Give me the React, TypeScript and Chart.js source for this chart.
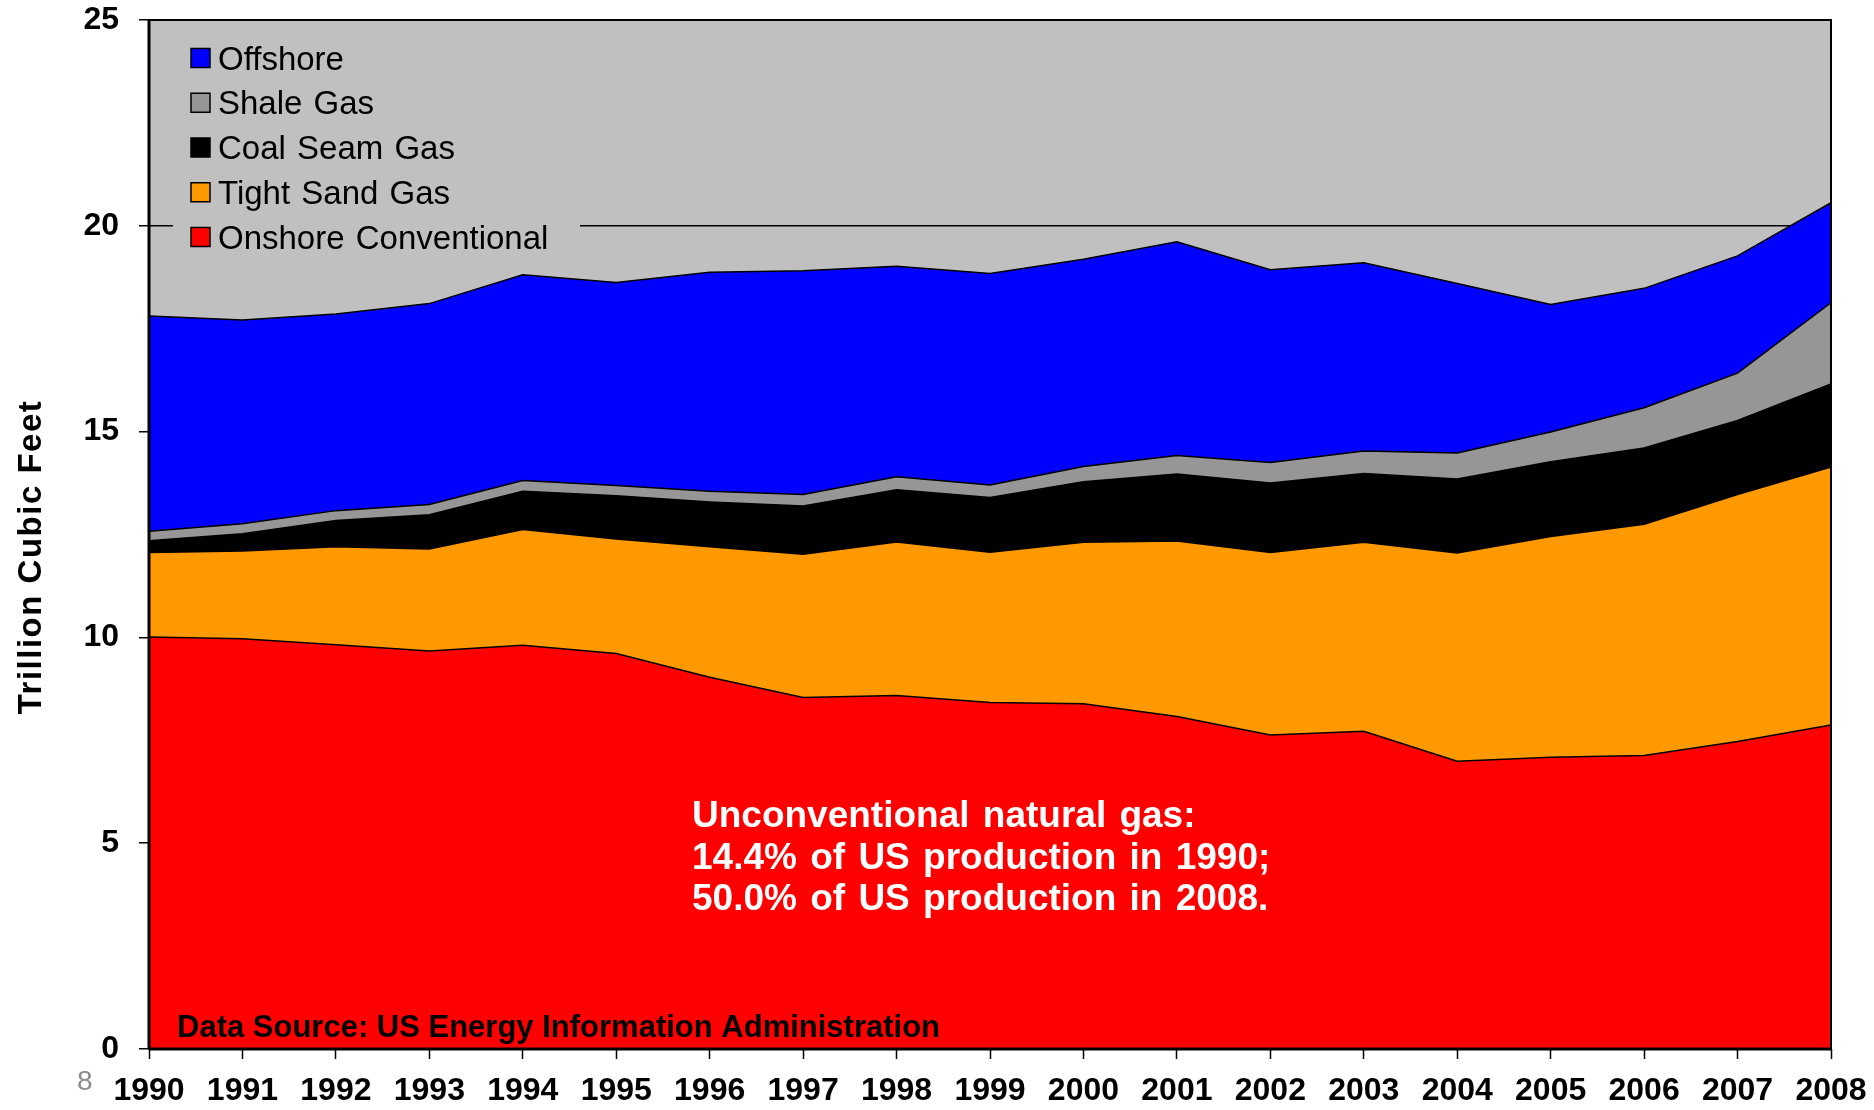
import React, { useEffect, useRef } from "react";
import { Chart, registerables } from "chart.js";

Chart.register(...registerables);

const years = ["1990","1991","1992","1993","1994","1995","1996","1997","1998","1999","2000","2001","2002","2003","2004","2005","2006","2007","2008"];
const onshoreConventional = [10.01, 9.97, 9.82, 9.67, 9.81, 9.61, 9.03, 8.54, 8.59, 8.42, 8.39, 8.08, 7.63, 7.72, 6.99, 7.09, 7.13, 7.47, 7.87];
const tightSandGas = [2.05, 2.13, 2.38, 2.48, 2.81, 2.78, 3.17, 3.48, 3.73, 3.65, 3.92, 4.26, 4.43, 4.59, 5.06, 5.36, 5.62, 6.0, 6.27];
const coalSeamGas = [0.29, 0.42, 0.64, 0.83, 0.93, 1.05, 1.09, 1.17, 1.27, 1.33, 1.47, 1.63, 1.69, 1.67, 1.8, 1.82, 1.85, 1.8, 2.02];
const shaleGas = [0.23, 0.24, 0.24, 0.25, 0.26, 0.25, 0.26, 0.28, 0.31, 0.3, 0.37, 0.45, 0.5, 0.55, 0.63, 0.72, 0.98, 1.15, 1.97];
const offshore = [5.23, 4.95, 4.78, 4.88, 5.0, 4.93, 5.32, 5.44, 5.12, 5.14, 5.04, 5.19, 4.68, 4.57, 4.12, 3.1, 2.9, 2.85, 2.43];

const seriesNames = ["Onshore Conventional", "Tight Sand Gas", "Coal Seam Gas", "Shale Gas", "Offshore"];
const seriesColors = ["#FF0000", "#FF9900", "#000000", "#969696", "#0000FF"];
const yTicks = [0, 5, 10, 15, 20, 25];
const yTitle = "Trillion Cubic Feet";
const noteLines = ["Unconventional natural gas:", "14.4% of US production in 1990;", "50.0% of US production in 2008."];
const sourceText = "Data Source: US Energy Information Administration";
const slideNumber = "8";

const FONT = "'Liberation Sans', Arial, Helvetica, sans-serif";

const bgPlugin = {
  id: "bgPlugin",
  beforeDraw(chart: any) {
    const { ctx, chartArea: a } = chart;
    ctx.save();
    ctx.fillStyle = "#FFFFFF";
    ctx.fillRect(0, 0, chart.width, chart.height);
    ctx.fillStyle = "#C0C0C0";
    ctx.fillRect(a.left, a.top, a.right - a.left, a.bottom - a.top);
    ctx.restore();
  },
};

const overlayPlugin = {
  id: "overlayPlugin",
  afterDraw(chart: any) {
    const { ctx, chartArea: a } = chart;
    ctx.save();
    // legend box (covers gridline)
    ctx.fillStyle = "#C0C0C0";
    ctx.fillRect(173, a.top + 4, 407, 234);

    // frame
    ctx.strokeStyle = "#000";
    ctx.lineWidth = 2;
    ctx.strokeRect(a.left, a.top, a.right - a.left, a.bottom - a.top);
    ctx.lineWidth = 3;
    ctx.beginPath();
    ctx.moveTo(a.left, a.bottom);
    ctx.lineTo(a.right, a.bottom);
    ctx.moveTo(a.left, a.top);
    ctx.lineTo(a.left, a.bottom);
    ctx.stroke();

    // legend entries
    const order = [4, 3, 2, 1, 0];
    ctx.font = `33px ${FONT}`;
    (ctx as any).wordSpacing = "2px";
    ctx.textBaseline = "alphabetic";
    ctx.textAlign = "left";
    order.forEach((di, i) => {
      const cy = 58 + i * 44.75;
      ctx.fillStyle = seriesColors[di];
      ctx.fillRect(191, cy - 9.5, 19, 19);
      ctx.strokeStyle = "#000";
      ctx.lineWidth = 1.5;
      ctx.strokeRect(191, cy - 9.5, 19, 19);
      ctx.fillStyle = "#000";
      ctx.fillText(seriesNames[di], 218, cy + 11.5);
    });

    // annotation
    ctx.fillStyle = "#FFFFFF";
    ctx.font = `bold 37px ${FONT}`;
    (ctx as any).wordSpacing = "3px";
    noteLines.forEach((t, i) => ctx.fillText(t, 692, 827 + i * 41.5));

    // source
    ctx.fillStyle = "#000";
    ctx.font = `bold 31px ${FONT}`;
    (ctx as any).wordSpacing = "0px";
    ctx.fillText(sourceText, 177, 1037);

    // slide number
    ctx.fillStyle = "#8C8C8C";
    ctx.font = `28px ${FONT}`;
    ctx.fillText(slideNumber, 77, 1090);

    // y title
    ctx.save();
    ctx.translate(32, 557);
    ctx.rotate(-Math.PI / 2);
    ctx.textAlign = "center";
    ctx.textBaseline = "middle";
    ctx.fillStyle = "#000";
    ctx.font = `bold 33px ${FONT}`;
    (ctx as any).letterSpacing = "1.5px";
    ctx.fillText(yTitle, 0, 0);
    ctx.restore();

    ctx.restore();
  },
};

export default function App() {
  const ref = useRef<HTMLCanvasElement | null>(null);
  useEffect(() => {
    if (!ref.current) return;
    const values = [onshoreConventional, tightSandGas, coalSeamGas, shaleGas, offshore];
    const chart = new Chart(ref.current, {
      type: "line",
      data: {
        labels: years,
        datasets: values.map((v, i) => ({
          label: seriesNames[i],
          data: v,
          backgroundColor: seriesColors[i],
          borderColor: "#000000",
          borderWidth: 1.5,
          pointRadius: 0,
          pointHoverRadius: 0,
          tension: 0,
          fill: i === 0 ? "origin" : "-1",
        })),
      },
      options: {
        animation: false,
        responsive: false,
        maintainAspectRatio: false,
        layout: { padding: { top: 20, right: 43, left: 0, bottom: 0 } },
        plugins: {
          legend: { display: false },
          tooltip: { enabled: false },
        },
        scales: {
          x: {
            type: "category",
            offset: false,
            border: { display: false },
            grid: {
              drawOnChartArea: false,
              drawTicks: true,
              tickLength: 10,
              tickColor: "#000",
              tickWidth: 1.5,
              color: "#000",
            },
            ticks: {
              color: "#000",
              font: { family: FONT, size: 32, weight: "bold" },
              padding: 13,
              maxRotation: 0,
              autoSkip: false,
            },
            afterFit: (s: any) => {
              s.height = 61;
              s.paddingLeft = 0;
              s.paddingRight = 0;
            },
          },
          y: {
            stacked: true,
            min: 0,
            max: 25,
            border: { display: false },
            afterBuildTicks: (s: any) => {
              s.ticks = yTicks.map((v) => ({ value: v }));
            },
            grid: {
              color: "#000",
              lineWidth: 1.5,
              tickLength: 10,
              tickColor: "#000",
              tickWidth: 1.5,
            },
            ticks: {
              color: "#000",
              font: { family: FONT, size: 32, weight: "bold" },
              padding: 20,
            },
            afterFit: (s: any) => {
              s.width = 149;
              s.paddingTop = 0;
              s.paddingBottom = 0;
            },
          },
        },
      },
      plugins: [bgPlugin, overlayPlugin],
    });
    return () => chart.destroy();
  }, []);
  return (
    <div style={{ position: "fixed", left: 0, top: 0, width: 1874, height: 1110, background: "#fff" }}>
      <canvas ref={ref} width={1874} height={1110} style={{ display: "block" }} />
    </div>
  );
}
